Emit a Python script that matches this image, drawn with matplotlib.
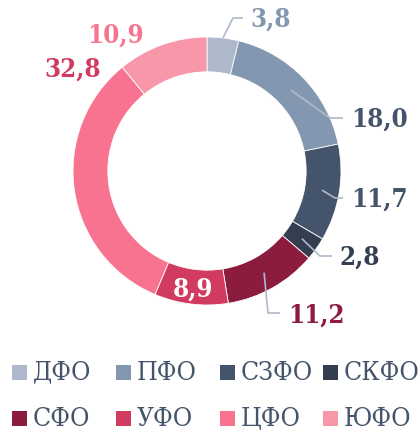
import numpy as np
import matplotlib.pyplot as plt
from matplotlib.patches import Rectangle

plt.rcParams['font.family'] = ['DejaVu Serif']
plt.rcParams['font.stretch'] = 'condensed'

# данные по федеральным округам, %
regions = ["ДФО", "ПФО", "СЗФО", "СКФО", "СФО", "УФО", "ЦФО", "ЮФО"]
values = [3.8, 18.0, 11.7, 2.8, 11.2, 8.9, 32.8, 10.9]
labels = ["3,8", "18,0", "11,7", "2,8", "11,2", "8,9", "32,8", "10,9"]

colors = ["#adb9ca", "#8497b0", "#44546a", "#333f50",
          "#8c1c3d", "#d13b5f", "#f7738f", "#f896aa"]
label_colors = ["#8497b0", "#44546a", "#44546a", "#333f50",
                "#8c1c3d", "#ffffff", "#d13b5f", "#f7738f"]

W, H = 420, 434
cx, cy, R = 207, 171, 134  # центр и радиус кольца в пикселях

fig = plt.figure(figsize=(W / 100, H / 100), dpi=100)
ax = fig.add_axes([0, 0, 1, 1])

wedges, _ = ax.pie(values, colors=colors, startangle=90, counterclock=False,
                   radius=1.0, wedgeprops=dict(width=0.26, edgecolor="white", linewidth=0.6))

ax.set_xlim(-cx / R, (W - cx) / R)
ax.set_ylim(-(H - cy) / R, cy / R)
ax.set_aspect('auto')
ax.axis('off')

# пиксели картинки -> координаты оси
def px(x, y):
    return ((x - cx) / R, (cy - y) / R)

# выноски: радиус начала линии, излом и конец линии, позиция текста
callouts = {
    0: dict(r0=1.0, pts=[px(233, 18), px(243, 18)], text=px(250, 19), ha="left"),
    1: dict(r0=0.87, pts=[px(330, 118), px(343, 118)], text=px(351, 119), ha="left"),
    2: dict(r0=0.87, pts=[px(335, 198), px(343, 198)], text=px(351, 199), ha="left"),
    3: dict(r0=0.87, pts=[px(320, 256), px(332, 256)], text=px(339, 257), ha="left"),
    4: dict(r0=0.87, pts=[px(268, 313), px(280, 313)], text=px(288, 315), ha="left"),
    5: dict(r0=None, pts=[], text=px(193, 289), ha="center"),
    6: dict(r0=None, pts=[], text=px(73, 69), ha="center"),
    7: dict(r0=None, pts=[], text=px(115, 35), ha="center"),
}

for i, w in enumerate(wedges):
    c = callouts[i]
    if c["r0"] is not None:
        mid = np.deg2rad((w.theta1 + w.theta2) / 2)
        x0, y0 = c["r0"] * np.cos(mid), c["r0"] * np.sin(mid)
        xs = [x0] + [p[0] for p in c["pts"]]
        ys = [y0] + [p[1] for p in c["pts"]]
        ax.plot(xs, ys, color="#adb9ca", linewidth=1.2, solid_capstyle="butt")
    ax.text(c["text"][0], c["text"][1], labels[i], color=label_colors[i],
            fontsize=18.5, fontweight="bold", ha=c["ha"], va="center")

# легенда: 2 строки по 4 элемента с равным шагом
col_x = [12, 116, 220, 323]
row_y = [372, 418]
sq = 15
for i, (name, col) in enumerate(zip(regions, colors)):
    x = col_x[i % 4]
    y = row_y[i // 4]
    fig.patches.append(Rectangle((x / W, (H - y - sq / 2) / H), sq / W, sq / H,
                                 transform=fig.transFigure, facecolor=col,
                                 edgecolor="none"))
    fig.text((x + sq + 6) / W, (H - y) / H, name, color="#44546a",
             fontsize=19, ha="left", va="center")

fig.savefig("out.png", dpi=100)
